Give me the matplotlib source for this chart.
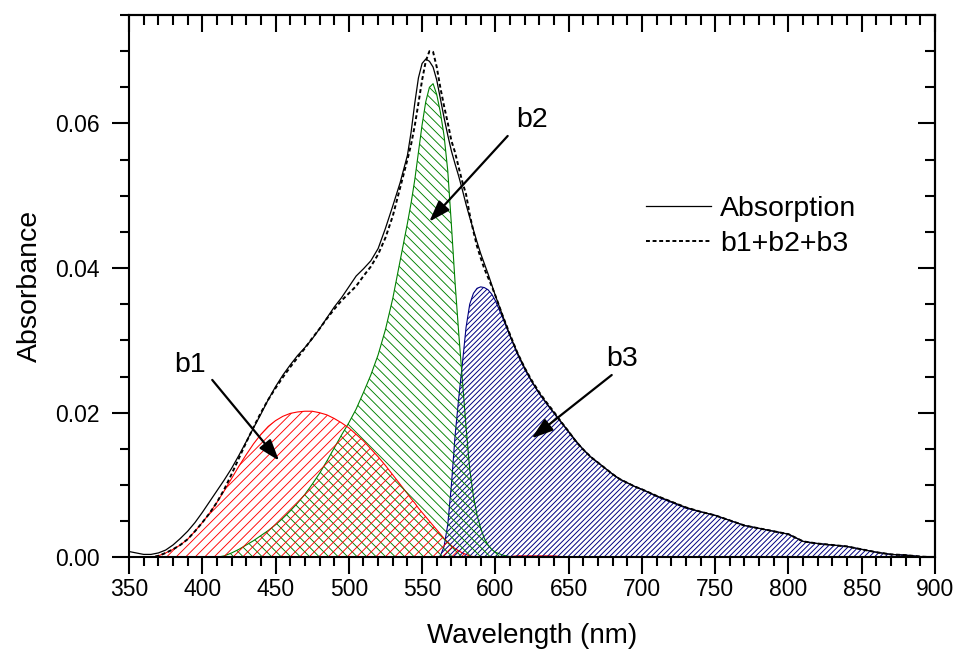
import numpy as np
import matplotlib
matplotlib.use("Agg")
import matplotlib.pyplot as plt
from matplotlib.collections import LineCollection
from matplotlib.transforms import IdentityTransform
from matplotlib.ticker import MultipleLocator, FormatStrFormatter, NullFormatter

plt.rcParams["font.family"] = ["Liberation Sans", "DejaVu Sans"]

# Wavelength sampling (nm): finer steps around the main band
wavelength = np.concatenate([
    np.arange(350, 540, 5),
    np.arange(540, 600, 2.5),
    np.arange(600, 700, 5),
    np.arange(700, 901, 10),
])

# Measured absorption spectrum
absorption = [
    0.0008, 0.0006, 0.0004, 0.0004, 0.0006, 0.0010, 0.0017, 0.0026, 0.0036, 0.0048,
    0.0062, 0.0077, 0.0092, 0.0107, 0.0123, 0.0141, 0.0160, 0.0179, 0.0198, 0.0218,
    0.0236, 0.0252, 0.0266, 0.0279, 0.0290, 0.0302, 0.0316, 0.0331, 0.0346, 0.0359,
    0.0374, 0.0389, 0.0399, 0.0410, 0.0427, 0.0455, 0.0486, 0.0518,
    0.0556, 0.0588, 0.0628, 0.0663, 0.0683, 0.0689, 0.0686, 0.0678, 0.0660, 0.0634,
    0.0608, 0.0584, 0.0562, 0.0544, 0.0527, 0.0508, 0.0488, 0.0470, 0.0453, 0.0436,
    0.0420, 0.0406, 0.0392, 0.0377,
    0.0362, 0.0334, 0.0307, 0.0283, 0.0262, 0.0243, 0.0227, 0.0213, 0.0200, 0.0187,
    0.0174, 0.0161, 0.0149, 0.0139, 0.0131, 0.0123, 0.0115, 0.0108, 0.0103, 0.0098,
    0.0094, 0.0085, 0.0077, 0.0069, 0.0063, 0.0058, 0.0051, 0.0044, 0.0040, 0.0036,
    0.0032, 0.0022, 0.0019, 0.0017, 0.0015, 0.0011, 0.0007, 0.0004, 0.0003, 0.0001,
    0.0000,
]

# Band b1
b1 = [
    0.0, 0.0, 0.0, 0.0, 0.0002, 0.0006, 0.0011, 0.0017, 0.0025, 0.0036,
    0.0048, 0.0061, 0.0076, 0.0092, 0.0109, 0.0126, 0.0142, 0.0157, 0.0170, 0.0181,
    0.0189, 0.0195, 0.0199, 0.0201, 0.0202, 0.0202, 0.0200, 0.0197, 0.0192, 0.0186,
    0.0179, 0.0170, 0.0161, 0.0150, 0.0139, 0.0127, 0.0114, 0.0101,
    0.0088, 0.0081, 0.0075, 0.0068, 0.0062, 0.0056, 0.0050, 0.0044, 0.0038, 0.0032,
    0.0026, 0.0021, 0.0016, 0.0012, 0.0009, 0.0006, 0.0004, 0.0002, 0.0001, 0.0,
    0.0, 0.0, 0.0, 0.0,
    0.0, 0.0, 0.0001, 0.0002, 0.0002, 0.0002, 0.0002, 0.0002, 0.0002, 0.0001,
    0.0001, 0.0, 0.0, 0.0, 0.0, 0.0, 0.0, 0.0, 0.0, 0.0,
    0.0, 0.0001, 0.0001, 0.0001, 0.0, 0.0, 0.0, 0.0, 0.0, 0.0,
    0.0, 0.0, 0.0, 0.0, 0.0, 0.0, 0.0, 0.0, 0.0, 0.0,
    0.0,
]

# Band b2
b2 = [
    0.0, 0.0, 0.0, 0.0, 0.0, 0.0, 0.0, 0.0, 0.0, 0.0,
    0.0, 0.0, 0.0, 0.0002, 0.0006, 0.0011, 0.0017, 0.0023, 0.0030, 0.0037,
    0.0045, 0.0054, 0.0064, 0.0075, 0.0087, 0.0101, 0.0116, 0.0133, 0.0151, 0.0169,
    0.0186, 0.0205, 0.0228, 0.0252, 0.0280, 0.0315, 0.0358, 0.0410,
    0.0462, 0.0490, 0.0522, 0.0560, 0.0598, 0.0630, 0.0650, 0.0655, 0.0640, 0.0615,
    0.0583, 0.0535, 0.0460, 0.0380, 0.0310, 0.0245, 0.0180, 0.0122, 0.0085, 0.0058,
    0.0040, 0.0026, 0.0017, 0.0011,
    0.0007, 0.0003, 0.0001, 0.0, 0.0, 0.0, 0.0, 0.0, 0.0, 0.0,
    0.0, 0.0, 0.0, 0.0, 0.0, 0.0, 0.0, 0.0, 0.0, 0.0,
    0.0, 0.0, 0.0, 0.0, 0.0, 0.0, 0.0, 0.0, 0.0, 0.0,
    0.0, 0.0, 0.0, 0.0, 0.0, 0.0, 0.0, 0.0, 0.0, 0.0,
    0.0,
]

# Band b3
b3 = [
    0.0, 0.0, 0.0, 0.0, 0.0, 0.0, 0.0, 0.0, 0.0, 0.0,
    0.0, 0.0, 0.0, 0.0, 0.0, 0.0, 0.0, 0.0, 0.0, 0.0,
    0.0, 0.0, 0.0, 0.0, 0.0, 0.0, 0.0, 0.0, 0.0, 0.0,
    0.0, 0.0, 0.0, 0.0, 0.0, 0.0, 0.0, 0.0,
    0.0, 0.0, 0.0, 0.0, 0.0, 0.0, 0.0, 0.0, 0.0, 0.0002,
    0.0015, 0.0045, 0.0100, 0.0168, 0.0220, 0.0268, 0.0318, 0.0350, 0.0365, 0.0372,
    0.0374, 0.0373, 0.0370, 0.0364,
    0.0355, 0.0331, 0.0306, 0.0281, 0.0260, 0.0242, 0.0226, 0.0212, 0.0199, 0.0186,
    0.0173, 0.0160, 0.0149, 0.0139, 0.0131, 0.0123, 0.0115, 0.0108, 0.0103, 0.0098,
    0.0094, 0.0084, 0.0076, 0.0068, 0.0063, 0.0058, 0.0051, 0.0044, 0.0040, 0.0036,
    0.0032, 0.0022, 0.0019, 0.0017, 0.0015, 0.0011, 0.0007, 0.0004, 0.0003, 0.0001,
    0.0,
]

band_sum = np.array(b1) + np.array(b2) + np.array(b3)

x_ticks = [350, 400, 450, 500, 550, 600, 650, 700, 750, 800, 850, 900]
y_ticks = [0.00, 0.02, 0.04, 0.06]

fig = plt.figure(figsize=(9.6, 6.62), dpi=100)
ax = fig.add_axes([129 / 960, 1 - 557.3 / 662, 806 / 960, 542.3 / 662])
ax.set_xlim(350, 900)
ax.set_ylim(0, 0.075)


def hatched_band(values, color, spacing, slope, lw):
    """Outline a band and fill it with 45-degree lines `spacing` pixels apart."""
    area = ax.fill_between(wavelength, 0, values, facecolor="none",
                           edgecolor=color, linewidth=0.8)
    x0, y0, x1, y1 = ax.bbox.extents
    reach = (x1 - x0) + (y1 - y0)
    offsets = np.arange(-reach, reach, spacing)
    xa, xb = x0 - reach, x1 + reach
    segs = [[(xa, y0 + slope * (xa - x0) + c), (xb, y0 + slope * (xb - x0) + c)]
            for c in offsets]
    lines = LineCollection(segs, colors=color, linewidths=lw,
                           transform=IdentityTransform())
    ax.add_collection(lines, autolim=False)
    lines.set_clip_path(area.get_paths()[0], ax.transData)


hatched_band(b3, "#000080", 5.2, 1, 0.7)
hatched_band(b2, "#008000", 9.5, -1, 0.65)
hatched_band(b1, "#ff0000", 9.5, 1, 0.65)

ax.plot(wavelength, absorption, color="black", lw=0.9, label="Absorption")
ax.plot(wavelength, band_sum, color="black", lw=1.4, ls=(0, (2, 1.4)),
        label="b1+b2+b3")

ax.set_xticks(x_ticks)
ax.set_yticks(y_ticks)
ax.xaxis.set_minor_locator(MultipleLocator(10))
ax.yaxis.set_minor_locator(MultipleLocator(0.005))
ax.yaxis.set_major_formatter(FormatStrFormatter("%.2f"))
ax.tick_params(which="major", direction="out", length=12, width=1.5, labelsize=16.5)
ax.tick_params(which="minor", direction="out", length=6.5, width=1.5)
ax.tick_params(axis="y", which="major", pad=9)
ax.tick_params(axis="x", which="major", pad=3)
for sp in ax.spines.values():
    sp.set_linewidth(1.5)

# Inward ticks on the top and right frame
top = ax.secondary_xaxis("top")
top.set_xticks(x_ticks)
top.xaxis.set_minor_locator(MultipleLocator(10))
top.xaxis.set_major_formatter(NullFormatter())
top.tick_params(which="major", direction="in", length=12, width=1.5)
top.tick_params(which="minor", direction="in", length=7, width=1.5)
top.spines["top"].set_linewidth(1.5)

right = ax.secondary_yaxis("right")
right.set_yticks(y_ticks)
right.yaxis.set_minor_locator(MultipleLocator(0.005))
right.yaxis.set_major_formatter(NullFormatter())
right.tick_params(which="major", direction="in", length=12, width=1.5)
right.tick_params(which="minor", direction="in", length=7, width=1.5)
right.spines["right"].set_linewidth(1.5)

ax.set_xlabel("Wavelength (nm)", fontsize=20)
ax.set_ylabel("Absorbance", fontsize=20.5)
ax.xaxis.set_label_coords(0.5, -0.121)
ax.yaxis.set_label_coords(-0.107, 0.5)

# Band labels with arrows
arrow_kw = dict(arrowstyle="-|>,head_length=0.65,head_width=0.22", lw=1.6,
                color="black", shrinkA=0, shrinkB=0, mutation_scale=20)
labels = [
    ("b1", (391.6, 0.02563), (406.8, 0.02453), (452.4, 0.01336)),
    ("b2", (625.3, 0.05956), (608.4, 0.05827), (554.9, 0.04642)),
    ("b3", (686.2, 0.02646), (679.4, 0.02521), (624.8, 0.01646)),
]
for name, txt_pos, start, tip in labels:
    ax.text(*txt_pos, name, fontsize=20.5, ha="center", va="baseline")
    ax.annotate("", xy=tip, xytext=start, arrowprops=arrow_kw)

ax.legend(loc="upper left", bbox_to_anchor=(0.6414, 0.6666), frameon=False,
          fontsize=20.5, handlelength=2.28, handletextpad=0.32, labelspacing=0.32,
          borderpad=0, borderaxespad=0)

fig.savefig("out.png", dpi=100)
